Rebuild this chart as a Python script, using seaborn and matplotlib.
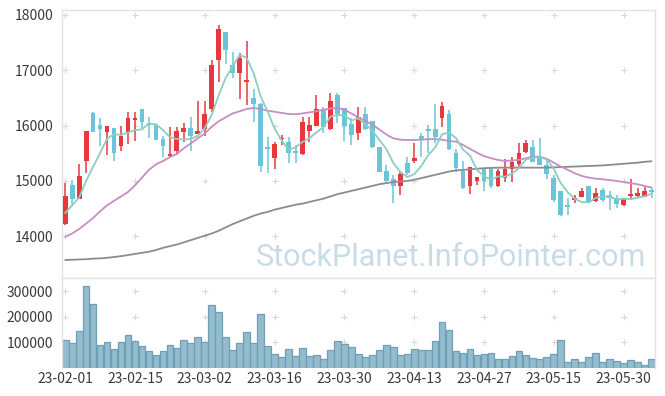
import matplotlib
matplotlib.use("Agg")
import matplotlib.pyplot as plt
import seaborn as sns
import numpy as np
import pandas as pd

# ---------------- data ----------------
opens = [14227, 14921, 14680, 15366, 16228, 16010, 15890, 15957, 15637, 15861,
         16107, 16300, 16055, 16024, 15758, 15456, 15547, 15890, 15962, 15854,
         15933, 16300, 17186, 17687, 17096, 16957, 16789, 16494, 16391, 15613,
         15415, 15752, 15710, 15535, 15487, 15908, 15999, 16300, 15939, 16554,
         16313, 16024, 15861, 16210, 16083, 15608, 15180, 15030, 14908, 15318,
         15360, 15812, 15939, 15939, 16132, 16210, 15510, 15185, 14908, 14999,
         15228, 15216, 14908, 15058, 15210, 15306, 15528, 15619, 15409, 15288,
         15058, 14818, 14552, 14655, 14715, 14908, 14643, 14836, 14746, 14697,
         14565, 14728, 14728, 14715, 14823]
highs = [14970, 15017, 15300, 15910, 16240, 16130, 16000, 15960, 15993, 16246,
         16246, 16300, 16150, 16030, 15818, 15980, 15970, 16053, 16150, 16445,
         16445, 17190, 17819, 17690, 17337, 17307, 17530, 16657, 16400, 15800,
         15710, 15830, 15788, 15650, 16150, 16150, 16554, 16342, 16585, 16585,
         16320, 16132, 16342, 16342, 16090, 15610, 15288, 15107, 15170, 15438,
         15680, 15861, 16011, 16391, 16433, 16282, 15572, 15366, 15258, 15070,
         15230, 15258, 15216, 15390, 15438, 15680, 15740, 15740, 15770, 15378,
         15107, 14820, 14686, 14746, 14867, 14910, 14867, 14870, 14818, 14746,
         14690, 15030, 14867, 14896, 14867]
lows = [14200, 14583, 14670, 15150, 15880, 15640, 15460, 15355, 15547, 15662,
        15727, 15950, 15780, 15740, 15438, 15410, 15470, 15709, 15547, 15850,
        15812, 16250, 16783, 17110, 16866, 16476, 16373, 16071, 15167, 15138,
        15210, 15650, 15330, 15330, 15469, 15709, 15990, 15861, 15921, 16042,
        15722, 15650, 15740, 15921, 15590, 15160, 14957, 14595, 14746, 15107,
        15330, 15438, 15500, 15680, 15980, 15560, 15167, 14854, 14764, 14926,
        14823, 14880, 14890, 14986, 14986, 15258, 15500, 15340, 15280, 15030,
        14624, 14366, 14384, 14606, 14710, 14595, 14624, 14624, 14474, 14505,
        14547, 14655, 14704, 14704, 14686]
closes = [14727, 14679, 15090, 15903, 15890, 15945, 15993, 15500, 15812, 16138,
          16144, 16071, 16015, 15740, 15637, 15492, 15903, 15962, 15812, 15903,
          16210, 17096, 17747, 17367, 16957, 17228, 16812, 16385, 15270, 15583,
          15668, 15782, 15500, 15505, 16071, 16011, 16300, 15980, 16450, 16205,
          15999, 15830, 16162, 15939, 15619, 15167, 15004, 14908, 15125, 15149,
          15415, 15740, 15908, 15800, 16355, 15572, 15227, 14877, 15246, 15066,
          15004, 14908, 15185, 15221, 15337, 15500, 15691, 15348, 15288, 15120,
          14655, 14384, 14534, 14697, 14818, 14624, 14787, 14655, 14686, 14577,
          14686, 14746, 14787, 14818, 14800]
volumes = [106700, 94900, 142000, 319600, 247800, 87000, 98800, 71400, 98800, 126300,
           102700, 83100, 63500, 47800, 63500, 87000, 75300, 106700, 94900, 118400,
           98800, 243900, 216500, 118400, 67500, 94900, 138000, 94900, 208600, 83100,
           51800, 40000, 71400, 43900, 75300, 43900, 47800, 32200, 67500, 102700,
           91000, 79200, 51800, 40000, 47800, 67500, 87000, 79200, 47800, 51800,
           71400, 67500, 67500, 102700, 177300, 145900, 63500, 55700, 71400, 47800,
           51800, 55700, 32200, 32200, 43900, 63500, 47800, 36100, 32200, 40000,
           51800, 106700, 20400, 32200, 20400, 40000, 55700, 20400, 32200, 24300,
           16500, 28200, 20400, 8600, 32200]
# first four 5-day averages (depend on days before the window)
ma5_head = [14420, 14560, 14700, 15000]
ma20 = [13990, 14050, 14130, 14230, 14330, 14450, 14560, 14640, 14720, 14800,
        14920, 15060, 15200, 15300, 15360, 15430, 15490, 15590, 15680, 15770,
        15860, 15980, 16080, 16150, 16220, 16260, 16300, 16320, 16300, 16270,
        16250, 16230, 16210, 16205, 16220, 16240, 16260, 16285, 16310, 16315,
        16290, 16220, 16150, 16080, 16020, 15930, 15840, 15770, 15745, 15740,
        15740, 15745, 15755, 15755, 15745, 15720, 15710, 15650, 15580, 15510,
        15450, 15410, 15380, 15360, 15370, 15380, 15410, 15440, 15440, 15400,
        15330, 15260, 15200, 15140, 15090, 15060, 15040, 15030, 15015, 15000,
        14980, 14960, 14940, 14910, 14880]
ma60 = [13570, 13575, 13580, 13585, 13595, 13600, 13610, 13625, 13640, 13660,
        13680, 13700, 13720, 13750, 13790, 13820, 13850, 13890, 13930, 13970,
        14010, 14050, 14100, 14160, 14220, 14270, 14320, 14370, 14410, 14440,
        14480, 14510, 14540, 14570, 14590, 14620, 14650, 14680, 14720, 14760,
        14790, 14820, 14850, 14880, 14910, 14940, 14960, 14980, 14990, 15000,
        15020, 15050, 15080, 15110, 15140, 15170, 15190, 15200, 15210, 15220,
        15230, 15235, 15240, 15240, 15240, 15240, 15240, 15240, 15240, 15240,
        15245, 15250, 15255, 15260, 15265, 15270, 15275, 15280, 15290, 15300,
        15310, 15320, 15330, 15345, 15355]
tick_pos = [0, 10, 20, 30, 40, 50, 60, 70, 80]
tick_labels = ["23-02-01", "23-02-15", "23-03-02", "23-03-16", "23-03-30",
               "23-04-13", "23-04-27", "23-05-15", "23-05-30"]
price_ticks = [14000, 15000, 16000, 17000, 18000]
vol_ticks = [100000, 200000, 300000]
watermark = "StockPlanet.InfoPointer.com"

# ---------------- style ----------------
sns.set_theme(style="white")
plt.rcParams['font.family'] = ['Noto Sans CJK KR', 'DejaVu Sans']

UP = "#e8383d"
DOWN = "#6cc4d8"
TEXT = "#3a3a3a"
BORDER = "#e3e3e3"

n = len(closes)
idx = np.arange(n)
df = pd.DataFrame({"i": idx, "open": opens, "high": highs, "low": lows,
                   "close": closes, "volume": volumes, "ma20": ma20, "ma60": ma60})
ma5 = df["close"].rolling(5).mean().to_numpy()
ma5[:4] = ma5_head
df["ma5"] = ma5

fig = plt.figure(figsize=(6.65, 3.96), dpi=100)
L, W = 61.7 / 665, 593.3 / 665
ax = fig.add_axes([L, 1 - 278 / 396, W, 268 / 396])
axv = fig.add_axes([L, 1 - 367.5 / 396, W, 89.5 / 396])

# grid "+" marks
gx, gy = np.meshgrid(tick_pos, price_ticks)
ax.scatter(gx.ravel(), gy.ravel(), marker="+", s=22, color="#d9d9d9", linewidths=0.8, zorder=0)
gx2, gy2 = np.meshgrid(tick_pos, vol_ticks)
axv.scatter(gx2.ravel(), gy2.ravel(), marker="+", s=22, color="#d9d9d9", linewidths=0.8, zorder=0)

# watermark
ax.text(0.985, 0.045, watermark, transform=ax.transAxes, ha="right", va="baseline",
        fontsize=22, color="#c9dce6", family=["Roboto", "DejaVu Sans"], zorder=1)

# candles
up = df["close"] >= df["open"]
colors = np.where(up, UP, DOWN)
body_bottom = np.minimum(df["open"], df["close"])
body_h = np.maximum(np.abs(df["close"] - df["open"]), 28)
ax.vlines(df["i"], df["low"], df["high"], colors=colors, linewidth=1.1, zorder=2)
ax.bar(df["i"], body_h, bottom=body_bottom, width=0.68, color=colors, linewidth=0, zorder=3)

# moving averages
sns.lineplot(data=df, x="i", y="ma60", ax=ax, color="#8c8c8c", linewidth=1.3, zorder=4)
sns.lineplot(data=df, x="i", y="ma20", ax=ax, color="#c78dc4", linewidth=1.3, zorder=4)
sns.lineplot(data=df, x="i", y="ma5", ax=ax, color="#8dcdc2", linewidth=1.3, zorder=5)

ax.set_xlim(-0.5, n - 0.5)
ax.set_ylim(13245, 18090)
ax.set_yticks(price_ticks)
ax.set_yticklabels([str(v) for v in price_ticks])
ax.set_xticks([])
ax.set_xlabel("")
ax.set_ylabel("")
ax.tick_params(axis="y", length=0, pad=6, labelsize=10, labelcolor=TEXT)
for s in ax.spines.values():
    s.set_color(BORDER)
    s.set_linewidth(1)

# volume
sns.barplot(data=df, x="i", y="volume", ax=axv, color="#93bccd", saturation=1,
            width=0.96, edgecolor="#6f9fb6", linewidth=0.9, zorder=2)
axv.set_xlim(-0.5, n - 0.5)
axv.set_ylim(0, 351000)
axv.set_yticks(vol_ticks)
axv.set_yticklabels([str(v) for v in vol_ticks])
axv.set_xticks(tick_pos)
axv.set_xticklabels(tick_labels)
axv.set_xlabel("")
axv.set_ylabel("")
axv.tick_params(axis="y", length=0, pad=6, labelsize=10, labelcolor=TEXT)
axv.tick_params(axis="x", length=0, pad=3, labelsize=10, labelcolor=TEXT)
for name, s in axv.spines.items():
    s.set_color(BORDER)
    s.set_linewidth(1)
axv.spines["bottom"].set_visible(False)

fig.savefig("out.png", dpi=100, facecolor="white")
